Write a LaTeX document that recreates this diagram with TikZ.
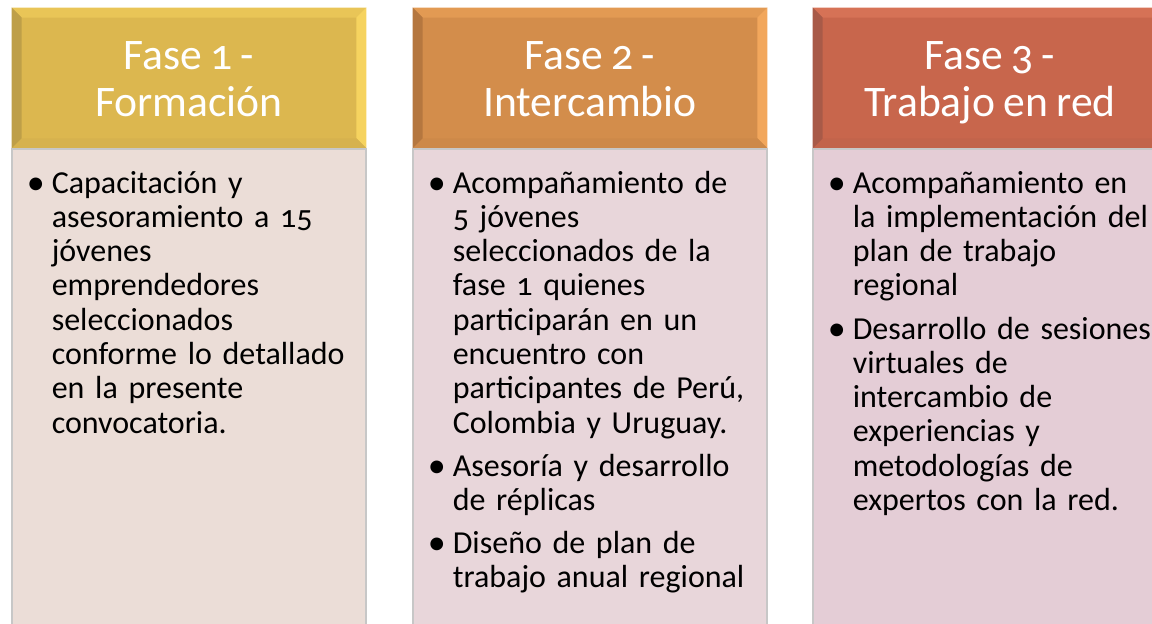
\documentclass[tikz,border=0pt]{standalone}
\usepackage{fontspec}
\setmainfont{Carlito}[Numbers=OldStyle, WordSpace=0.85]
\usetikzlibrary{positioning,calc}
\definecolor{faseA}{HTML}{DCB74F}
\definecolor{faseAl}{HTML}{F6D35F}
\definecolor{faseAd}{HTML}{BE9F48}
\definecolor{faseB}{HTML}{D38D4B}
\definecolor{faseBl}{HTML}{F2A75C}
\definecolor{faseBd}{HTML}{B5773F}
\definecolor{faseC}{HTML}{C8664C}
\definecolor{faseCl}{HTML}{E57E60}
\definecolor{faseCd}{HTML}{A85A48}
\definecolor{cuerpoA}{HTML}{EBDDD7}
\definecolor{cuerpoB}{HTML}{E8D6DA}
\definecolor{cuerpoC}{HTML}{E4CDD6}
\newcommand{\itm}[1]{\par\noindent\llap{\raisebox{-0.6pt}{\fontsize{18}{0}\selectfont\textbullet}\hspace{3.5pt}}#1\par\vspace{4.4pt}}
\newcommand{\bevel}[2]{% node, colour prefix
    \fill[#2!50!#2l] (#1.north west) -- (#1.north east) -- ($(#1.north east)+(-10,10)$) -- ($(#1.north west)+(10,10)$) -- cycle;
    \fill[#2l] (#1.north east) -- (#1.south east) -- ($(#1.south east)+(-10,-10)$) -- ($(#1.north east)+(-10,10)$) -- cycle;
    \fill[#2!80!#2d] (#1.south east) -- (#1.south west) -- ($(#1.south west)+(10,-10)$) -- ($(#1.south east)+(-10,-10)$) -- cycle;
    \fill[#2d] (#1.south west) -- (#1.north west) -- ($(#1.north west)+(10,10)$) -- ($(#1.south west)+(10,-10)$) -- cycle;
}

\begin{document}
\begin{tikzpicture}[x=0.5pt, y=-0.5pt,
    hdr/.style={minimum width=177pt, minimum height=70pt, inner sep=0pt, text=white,
        align=center, font=\fontsize{21.8}{23.5}\selectfont},
    box/.style={minimum width=177pt, minimum height=250pt, anchor=north, inner sep=0pt,
        draw=black!22, line width=0.6pt},
    txt/.style={anchor=north west, text width=165pt, inner sep=0pt, align=left,
        font=\fontsize{16}{17.15}\selectfont}]
    \useasboundingbox (0,0) rectangle (1152,624);
    \clip (0,0) rectangle (1152,624);

    % phase headers
    \node[hdr, fill=faseA] (hdr1) at (189,78) {};
    \node[hdr, fill=faseB] (hdr2) at (590,78) {};
    \node[hdr, fill=faseC] (hdr3) at (990,78) {};
    \bevel{hdr1}{faseA}
    \bevel{hdr2}{faseB}
    \bevel{hdr3}{faseC}
    \node[hdr, yshift=-2.8pt] at (hdr1) {\strut Fase 1 -\\\strut Formación};
    \node[hdr, yshift=-2.8pt] at (hdr2) {\strut Fase 2 -\\\strut Intercambio};
    \node[hdr, yshift=-2.8pt] at (hdr3) {\strut Fase 3 -\\\strut Trabajo en red};

    % bodies
    \node[box, fill=cuerpoA] (box1) at (hdr1.south) {};
    \node[box, fill=cuerpoB] (box2) at (hdr2.south) {};
    \node[box, fill=cuerpoC] (box3) at (hdr3.south) {};

    \node[txt, below right=5pt and 20pt of box1.north west] (txt1) {
        \itm{Capacitación y\\asesoramiento a 15\\jóvenes\\emprendedores\\seleccionados\\conforme lo detallado\\en la presente\\convocatoria.}
    };
    \node[txt, below right=5pt and 20pt of box2.north west] (txt2) {
        \itm{Acompañamiento de\\5 jóvenes\\seleccionados de la\\fase 1 quienes\\participarán en un\\encuentro con\\participantes de Perú,\\Colombia y Uruguay.}
        \itm{Asesoría y desarrollo\\de réplicas}
        \itm{Diseño de plan de\\trabajo anual regional}
    };
    \node[txt, below right=5pt and 20pt of box3.north west] (txt3) {
        \itm{Acompañamiento en\\la implementación del\\plan de trabajo\\regional}
        \itm{Desarrollo de sesiones\\virtuales de\\intercambio de\\experiencias y\\metodologías de\\expertos con la red.}
    };
\end{tikzpicture}
\end{document}
